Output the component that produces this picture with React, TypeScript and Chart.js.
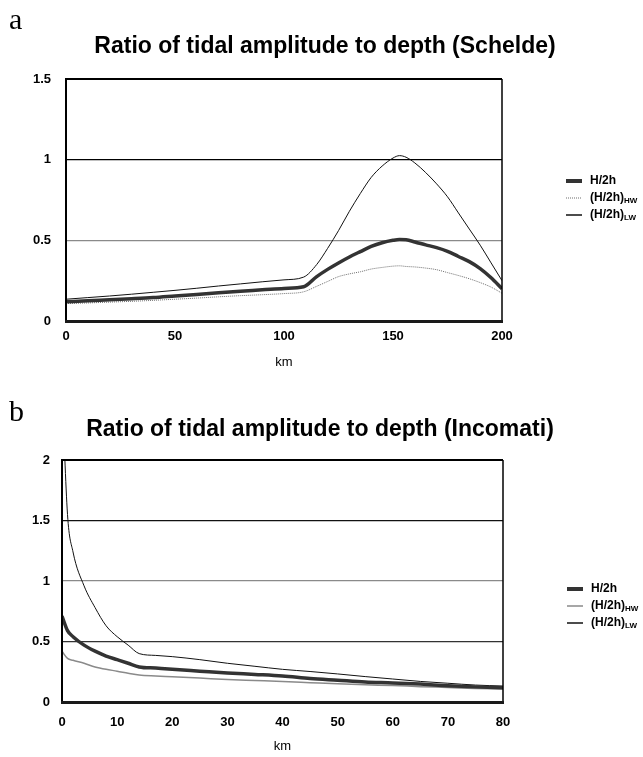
import React, { useEffect, useRef } from 'react';
import { Chart, registerables } from 'chart.js';

Chart.register(...registerables);

// ---------- Panel a: Schelde ----------
const schTitle = 'Ratio of tidal amplitude to depth (Schelde)';
const schKm = [0, 10, 20, 30, 40, 50, 60, 70, 80, 90, 100, 109, 115, 120, 125, 130, 135, 140, 145, 150, 153, 156, 160, 165, 170, 175, 180, 185, 190, 195, 200];
const schH2h = [0.12, 0.125, 0.132, 0.138, 0.145, 0.155, 0.165, 0.175, 0.185, 0.193, 0.202, 0.212, 0.275, 0.32, 0.36, 0.397, 0.43, 0.462, 0.485, 0.5, 0.505, 0.503, 0.49, 0.472, 0.455, 0.432, 0.4, 0.368, 0.325, 0.268, 0.2];
const schHW = [0.108, 0.112, 0.117, 0.122, 0.128, 0.135, 0.142, 0.15, 0.157, 0.163, 0.17, 0.181, 0.215, 0.245, 0.275, 0.292, 0.305, 0.322, 0.332, 0.34, 0.342, 0.338, 0.335, 0.328, 0.318, 0.3, 0.282, 0.262, 0.238, 0.21, 0.172];
const schLW = [0.135, 0.145, 0.155, 0.166, 0.178, 0.19, 0.203, 0.217, 0.23, 0.243, 0.255, 0.272, 0.35, 0.45, 0.56, 0.68, 0.79, 0.89, 0.96, 1.01, 1.025, 1.015, 0.98, 0.92, 0.85, 0.77, 0.67, 0.57, 0.47, 0.36, 0.25];
const schXTicks = [0, 50, 100, 150, 200];
const schYTicks = [0, 0.5, 1, 1.5];

// ---------- Panel b: Incomati ----------
const incTitle = 'Ratio of tidal amplitude to depth (Incomati)';
const incKm = [0, 1, 2, 4, 6, 8, 10, 12, 14, 17, 20, 25, 30, 35, 40, 45, 50, 55, 60, 65, 70, 75, 80];
const incH2h = [0.71, 0.59, 0.54, 0.47, 0.42, 0.38, 0.35, 0.32, 0.29, 0.28, 0.27, 0.255, 0.24, 0.228, 0.215, 0.195, 0.18, 0.165, 0.158, 0.148, 0.135, 0.125, 0.118];
const incHW = [0.42, 0.36, 0.345, 0.32, 0.29, 0.27, 0.255, 0.238, 0.223, 0.215, 0.209, 0.198, 0.186, 0.178, 0.17, 0.16, 0.15, 0.142, 0.136, 0.127, 0.12, 0.112, 0.107];
const incLW = [2.6, 1.55, 1.24, 0.96, 0.78, 0.63, 0.54, 0.47, 0.4, 0.385, 0.375, 0.35, 0.32, 0.295, 0.27, 0.252, 0.232, 0.21, 0.19, 0.17, 0.155, 0.14, 0.132];
const incXTicks = [0, 10, 20, 30, 40, 50, 60, 70, 80];
const incYTicks = [0, 0.5, 1, 1.5, 2];

const seriesMain = ['H/2h', '(H/2h)', '(H/2h)'];
const seriesSub = ['', 'HW', 'LW'];
const xTitle = 'km';

const SANS = "'Liberation Sans', Arial, sans-serif";

const titlePlugin = {
  id: 'panelTitle',
  afterDraw(chart: any, _a: any, opts: any) {
    const ctx = chart.ctx;
    ctx.save();
    ctx.font = `bold ${opts.size}px ${SANS}`;
    ctx.fillStyle = '#000';
    ctx.textAlign = 'center';
    ctx.textBaseline = 'middle';
    ctx.fillText(opts.text, opts.x, opts.y);
    ctx.restore();
  },
};

const framePlugin = {
  id: 'panelFrame',
  afterDatasetsDraw(chart: any) {
    const { left, right, top, bottom } = chart.chartArea;
    const ctx = chart.ctx;
    ctx.save();
    ctx.strokeStyle = '#000';
    ctx.lineWidth = 2;
    ctx.beginPath();
    ctx.moveTo(left, bottom);
    ctx.lineTo(left, top);
    ctx.lineTo(right, top);
    ctx.stroke();
    ctx.lineWidth = 1.5;
    ctx.beginPath();
    ctx.moveTo(right, top);
    ctx.lineTo(right, bottom);
    ctx.stroke();
    ctx.strokeStyle = '#1a1a1a';
    ctx.lineWidth = 3;
    ctx.beginPath();
    ctx.moveTo(left - 1, bottom + 0.5);
    ctx.lineTo(right + 1, bottom + 0.5);
    ctx.stroke();
    ctx.restore();
  },
};

const legendPlugin = {
  id: 'panelLegend',
  afterDraw(chart: any, _a: any, opts: any) {
    const ctx = chart.ctx;
    const x0 = chart.chartArea.right + opts.dx;
    chart.data.datasets.forEach((ds: any, i: number) => {
      const y = opts.y + i * opts.gap;
      ctx.save();
      ctx.strokeStyle = ds.borderColor;
      ctx.lineWidth = ds.legendWidth;
      ctx.setLineDash(ds.borderDash || []);
      ctx.beginPath();
      ctx.moveTo(x0, y);
      ctx.lineTo(x0 + 16, y);
      ctx.stroke();
      ctx.setLineDash([]);
      ctx.fillStyle = '#000';
      ctx.textAlign = 'left';
      ctx.textBaseline = 'middle';
      ctx.font = `bold 12px ${SANS}`;
      const tx = x0 + 24;
      ctx.fillText(seriesMain[i], tx, y);
      const w = ctx.measureText(seriesMain[i]).width;
      if (seriesSub[i]) {
        ctx.font = `bold 8px ${SANS}`;
        ctx.fillText(seriesSub[i], tx + w, y + 3);
      }
      ctx.restore();
    });
  },
};

interface PanelSpec {
  title: string;
  titleX: number;
  titleY: number;
  km: number[];
  h2h: number[];
  hw: number[];
  lw: number[];
  xTicks: number[];
  yTicks: number[];
  width: number;
  height: number;
  padTop: number;
  padRight: number;
  yAxisW: number;
  xAxisH: number;
  xTickPad: number;
  yTickPad: number;
  kmPad: number;
  tickSize: number;
  gridColors: Record<string, string>;
  hwStyle: { color: string; width: number; dash: number[] };
  legendY: number;
  legendGap: number;
}

function buildConfig(p: PanelSpec): any {
  const pts = (arr: number[]) => p.km.map((x, i) => ({ x, y: arr[i] }));
  return {
    type: 'line',
    data: {
      datasets: [
        { label: 'H/2h', data: pts(p.h2h), borderColor: '#333333', borderWidth: 3.5, legendWidth: 4, pointRadius: 0, cubicInterpolationMode: 'monotone' },
        { label: '(H/2h)HW', data: pts(p.hw), borderColor: p.hwStyle.color, borderWidth: p.hwStyle.width, legendWidth: p.hwStyle.width, borderDash: p.hwStyle.dash, pointRadius: 0, cubicInterpolationMode: 'monotone' },
        { label: '(H/2h)LW', data: pts(p.lw), borderColor: '#111111', borderWidth: 1, legendWidth: 1.5, pointRadius: 0, cubicInterpolationMode: 'monotone' },
      ],
    },
    options: {
      responsive: false,
      animation: false,
      devicePixelRatio: 1,
      layout: { padding: { top: p.padTop, right: p.padRight, left: 0, bottom: 0 } },
      plugins: {
        legend: { display: false },
        title: { display: false },
        tooltip: { enabled: false },
        panelTitle: { text: p.title, x: p.titleX, y: p.titleY, size: 23 },
        panelLegend: { dx: 64, y: p.legendY, gap: p.legendGap },
      },
      scales: {
        x: {
          type: 'linear',
          min: p.xTicks[0],
          max: p.xTicks[p.xTicks.length - 1],
          afterBuildTicks: (s: any) => { s.ticks = p.xTicks.map((v) => ({ value: v })); },
          afterFit: (s: any) => { s.height = p.xAxisH; },
          grid: { display: false, drawTicks: false },
          border: { display: false },
          ticks: { color: '#000', padding: p.xTickPad, maxRotation: 0, callback: (v: any) => String(v), font: { family: SANS, size: p.tickSize, weight: 'bold' } },
          title: { display: true, text: xTitle, color: '#000', padding: { top: 0, bottom: p.kmPad }, font: { family: SANS, size: 13 } },
        },
        y: {
          type: 'linear',
          min: p.yTicks[0],
          max: p.yTicks[p.yTicks.length - 1],
          afterBuildTicks: (s: any) => { s.ticks = p.yTicks.map((v) => ({ value: v })); },
          afterFit: (s: any) => { s.width = p.yAxisW; },
          grid: {
            drawTicks: false,
            lineWidth: 1.2,
            color: (c: any) => p.gridColors[String(c.tick && c.tick.value)] || 'rgba(0,0,0,0)',
          },
          border: { display: false },
          ticks: { color: '#000', padding: p.yTickPad, callback: (v: any) => String(v), font: { family: SANS, size: p.tickSize, weight: 'bold' } },
        },
      },
    },
    plugins: [titlePlugin, framePlugin, legendPlugin],
  };
}

function Panel({ spec, top }: { spec: PanelSpec; top: number }) {
  const ref = useRef<HTMLCanvasElement | null>(null);
  useEffect(() => {
    if (!ref.current) return;
    const chart = new Chart(ref.current, buildConfig(spec));
    return () => chart.destroy();
  }, [spec]);
  return (
    <canvas
      ref={ref}
      width={spec.width}
      height={spec.height}
      style={{ position: 'absolute', left: 0, top, width: spec.width, height: spec.height, display: 'block' }}
    />
  );
}

const specA: PanelSpec = {
  title: schTitle, titleX: 325, titleY: 47,
  km: schKm, h2h: schH2h, hw: schHW, lw: schLW, xTicks: schXTicks, yTicks: schYTicks,
  width: 643, height: 380, padTop: 79, padRight: 141, yAxisW: 66, xAxisH: 59,
  xTickPad: 8, yTickPad: 15, kmPad: 10, tickSize: 13,
  gridColors: { '1': '#000000', '0.5': '#8a8a8a' },
  hwStyle: { color: '#6e6e6e', width: 1, dash: [1, 1] },
  legendY: 181, legendGap: 17,
};

const specB: PanelSpec = {
  title: incTitle, titleX: 320, titleY: 50,
  km: incKm, h2h: incH2h, hw: incHW, lw: incLW, xTicks: incXTicks, yTicks: incYTicks,
  width: 643, height: 377, padTop: 80, padRight: 140, yAxisW: 62, xAxisH: 55,
  xTickPad: 13, yTickPad: 12, kmPad: 3, tickSize: 13,
  gridColors: { '1.5': '#111111', '1': '#8a8a8a', '0.5': '#333333' },
  hwStyle: { color: '#8a8a8a', width: 1.5, dash: [] },
  legendY: 209, legendGap: 17,
};

const letterStyle: React.CSSProperties = {
  position: 'absolute',
  left: 9,
  fontFamily: "'Liberation Serif', 'Times New Roman', serif",
  fontSize: 30,
  lineHeight: '30px',
  color: '#000',
};

export default function App() {
  return (
    <div style={{ position: 'absolute', left: 0, top: 0, width: 643, height: 757, background: '#fff', overflow: 'hidden' }}>
      <Panel spec={specA} top={0} />
      <Panel spec={specB} top={380} />
      <div style={{ ...letterStyle, top: 4 }}>a</div>
      <div style={{ ...letterStyle, top: 396 }}>b</div>
    </div>
  );
}
